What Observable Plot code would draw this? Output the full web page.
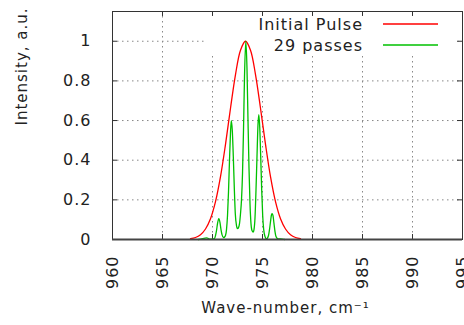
<!DOCTYPE html>
<html><head><meta charset="utf-8">
<script src="https://cdn.jsdelivr.net/npm/d3@7"></script>
<script src="https://cdn.jsdelivr.net/npm/@observablehq/plot@0.6"></script>
<style>body{margin:0;background:#fff}</style>
</head><body><div id="chart"></div>
<script>
const xTicks = [960, 965, 970, 975, 980, 985, 990, 995];
const yTicks = [0, 0.2, 0.4, 0.6, 0.8, 1];
const yTickLabels = ["0", "0.2", "0.4", "0.6", "0.8", "1"];
const seriesNames = ["Initial Pulse", "29 passes"];
const seriesColors = ["#ff0000", "#00c000"];

// Initial pulse
const pulseX = [967.8, 968.3, 968.8, 969.3, 969.8, 970.3, 970.8, 971.3, 971.8, 972.3, 972.8, 973.3, 973.8, 974.3, 974.8, 975.3, 975.8, 976.3, 976.8, 977.3, 977.8, 978.3, 978.8];
const pulseY = [0.004, 0.010, 0.024, 0.053, 0.105, 0.191, 0.317, 0.480, 0.662, 0.832, 0.955, 1.0, 0.955, 0.832, 0.662, 0.480, 0.317, 0.191, 0.105, 0.053, 0.024, 0.010, 0.004];

// After 29 passes
const passX = [968.6, 969.0, 969.4, 969.8, 970.2, 970.3, 970.4, 970.5, 970.63, 970.75, 970.85, 970.95, 971.1, 971.2,
  971.3, 971.4, 971.5, 971.6, 971.7, 971.8, 971.88, 971.98, 972.08, 972.18, 972.28, 972.4, 972.5, 972.6,
  972.7, 972.8, 972.9, 973.0, 973.1, 973.2, 973.33, 973.45, 973.55, 973.65, 973.75, 973.85, 973.95, 974.07,
  974.15, 974.25, 974.35, 974.45, 974.55, 974.63, 974.72, 974.82, 974.92, 975.02, 975.12, 975.25, 975.4,
  975.6, 975.7, 975.8, 975.9, 975.97, 976.05, 976.15, 976.25, 976.35, 976.5, 976.8, 977.2];
const passY = [0.0, 0.004, 0.008, 0.002, 0.005, 0.02, 0.045, 0.08, 0.105, 0.085, 0.05, 0.025, 0.01, 0.012,
  0.02, 0.05, 0.12, 0.24, 0.40, 0.54, 0.60, 0.55, 0.42, 0.26, 0.13, 0.07, 0.055, 0.06,
  0.08, 0.13, 0.2, 0.33, 0.55, 0.82, 1.0, 0.86, 0.6, 0.36, 0.18, 0.08, 0.045, 0.037,
  0.05, 0.11, 0.25, 0.42, 0.58, 0.63, 0.57, 0.42, 0.25, 0.12, 0.05, 0.015, 0.003,
  0.02, 0.05, 0.09, 0.125, 0.13, 0.12, 0.08, 0.04, 0.015, 0.005, 0.003, 0.0];

const pulse = pulseX.map((x, i) => ({x, y: pulseY[i]}));
const pass = passX.map((x, i) => ({x, y: passY[i]}));

const legendBox = (index, scales, values, dim) => {
  const right = dim.width - dim.marginRight;
  const top = dim.marginTop;
  return d3.create("svg:rect").attr("x", right - 257).attr("y", top + 1)
    .attr("width", 253).attr("height", 43).attr("fill", "#fff").node();
};

const legend = (index, scales, values, dim) => {
  const right = dim.width - dim.marginRight;
  const top = dim.marginTop;
  const g = d3.create("svg:g");
  seriesNames.forEach((name, i) => {
    const y = top + 13 + i * 21;
    g.append("text").attr("x", right - 99).attr("y", y).attr("dy", "0.35em")
      .attr("text-anchor", "end").attr("fill", "#222")
      .style("font-size", "16px").text(name);
    g.append("line").attr("x1", right - 79).attr("x2", right - 24)
      .attr("y1", y).attr("y2", y).attr("stroke", seriesColors[i]).attr("stroke-width", 1.3);
  });
  return g.node();
};

const dash = {stroke: "#888", strokeOpacity: 1, strokeDasharray: "1.5,3.5", strokeWidth: 1};

const chart = Plot.plot({
  width: 464, height: 325,
  marginLeft: 112, marginRight: 2, marginTop: 11, marginBottom: 86,
  x: {domain: [960, 995], axis: null},
  y: {domain: [0, 1.15], axis: null},
  style: {fontFamily: "DejaVu Sans", fontSize: "15px", letterSpacing: "1px", background: "#fff", color: "#222"},
  marks: [
    Plot.ruleX(xTicks.slice(1, -1), {x: d => d, ...dash}),
    Plot.ruleY(yTicks.slice(1), {y: d => d, ...dash}),
    legendBox,
    // inward ticks
    Plot.ruleX(xTicks, {x: d => d, y1: 0, y2: 0.025, stroke: "#333"}),
    Plot.ruleX(xTicks, {x: d => d, y1: 1.15, y2: 1.125, stroke: "#333"}),
    Plot.ruleY(yTicks, {y: d => d, x1: 960, x2: 960.5, stroke: "#333"}),
    Plot.ruleY(yTicks, {y: d => d, x1: 995, x2: 994.5, stroke: "#333"}),
    Plot.line(pulse, {x: "x", y: "y", stroke: seriesColors[0], strokeWidth: 1.3, curve: "catmull-rom"}),
    Plot.line(pass, {x: "x", y: "y", stroke: seriesColors[1], strokeWidth: 1.3, curve: "monotone-x"}),
    Plot.frame({stroke: "#333", strokeWidth: 1}),
    Plot.ruleY([0], {stroke: "#444", strokeWidth: 2}),
    Plot.text(yTickLabels, {y: (d, i) => yTicks[i], text: d => d, frameAnchor: "left", textAnchor: "end", dx: -21, fontSize: 16}),
    Plot.text(xTicks, {x: d => d, text: d => String(d), frameAnchor: "bottom", rotate: -90, textAnchor: "end", lineAnchor: "middle", dy: 16, fontSize: 16}),
    Plot.text(["Intensity, a.u."], {frameAnchor: "left", rotate: -90, dx: -90, dy: 0, fontSize: 15}),
    Plot.text(["Wave-number, cm⁻¹"], {frameAnchor: "bottom", dy: 73, dx: -2, fontSize: 15}),
    legend
  ]
});
document.getElementById("chart").appendChild(chart);
</script>
</body></html>
